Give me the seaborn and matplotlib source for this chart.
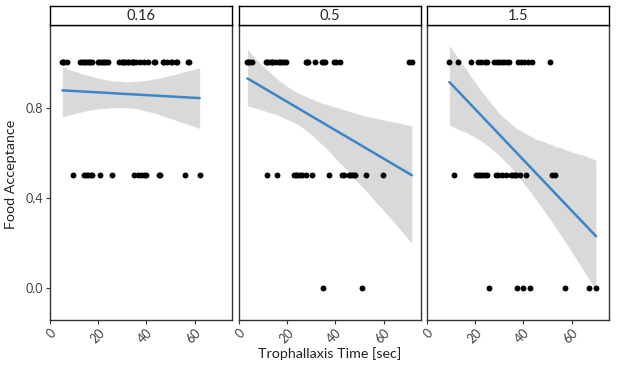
import numpy as np
import pandas as pd
import seaborn as sns
import matplotlib.pyplot as plt

sns.set_style("white")
plt.rcParams['font.family'] = ['Lato', 'DejaVu Sans']

panels = ["0.16", "0.5", "1.5"]

# panel 0.16
p1_one = [5.1, 5.5, 5.8, 7.2, 12.3, 13.4, 13.9, 14.5, 15.5, 16.0, 16.5, 17.6, 20.0, 20.5, 21.0, 22.1, 22.6,
          23.1, 24.2, 28.6, 29.7, 30.2, 30.7, 31.7, 32.2, 32.8, 33.9, 34.4, 34.9, 35.8, 37.3, 39.0,
          40.8, 43.2, 43.6, 46.9, 47.3, 48.7, 50.1, 50.5, 52.4, 52.8, 57.4, 57.8]
p1_half = [9.4, 14.1, 15.1, 15.9, 16.9, 17.6, 20.6, 25.9, 35.0, 36.6, 37.8, 38.9, 40.0, 45.2, 45.5, 56.0, 62.1]
p1_zero = []

# panel 0.5
p2_one = [3.5, 3.8, 4.4, 5.3, 11.3, 11.7, 12.2, 13.1, 13.5, 14.1, 15.5, 16.6, 17.2, 17.7, 18.7, 19.6,
          27.7, 28.1, 28.8, 31.5, 34.3, 34.8, 35.7, 39.4, 40.4, 41.8, 70.5, 71.7]
p2_half = [11.5, 15.9, 22.8, 23.5, 24.2, 25.2, 26.3, 27.9, 30.4, 37.3, 42.9, 43.6, 45.6, 46.2, 46.8,
           47.7, 48.1, 52.6, 59.8]
p2_zero = [35.0, 50.9]

# panel 1.5
p3_one = [9.3, 12.9, 18.4, 21.1, 22.5, 23.9, 24.8, 28.0, 28.9, 29.9, 31.0, 32.1, 33.0, 34.0, 37.9,
          39.2, 40.3, 41.7, 43.6, 50.9]
p3_half = [11.1, 20.3, 21.1, 22.1, 23.0, 23.9, 24.8, 28.5, 29.3, 31.3, 32.6, 34.9, 35.8, 36.5, 36.9, 38.6,
           40.9, 51.9, 53.2]
p3_zero = [25.9, 37.2, 39.9, 42.9, 57.1, 67.0, 70.1]

rows = []
for name, groups in zip(panels, [(p1_one, p1_half, p1_zero), (p2_one, p2_half, p2_zero), (p3_one, p3_half, p3_zero)]):
    for val, xs in zip([1.0, 0.5, 0.0], groups):
        for x in xs:
            rows.append({"panel": name, "time": x, "acc": val})
df = pd.DataFrame(rows)

fig = plt.figure(figsize=(6.17, 3.70), dpi=100)
W, H = 617, 370
lefts = [50, 239, 427]
width = 182
bottom_px, top_px = 320, 25
strip_top = 6

for i, name in enumerate(panels):
    ax = fig.add_axes([lefts[i] / W, 1 - bottom_px / H, width / W, (bottom_px - top_px) / H])
    d = df[df.panel == name]
    sns.regplot(data=d, x="time", y="acc", ax=ax, scatter=False, color="black",
                line_kws={"alpha": 0}, seed=1, n_boot=2000)
    sns.scatterplot(data=d, x="time", y="acc", ax=ax, color="black", s=18, linewidth=0, zorder=3)
    sns.regplot(data=d, x="time", y="acc", ax=ax, scatter=False, ci=None, color="#3d85c6",
                line_kws={"linewidth": 1.8, "zorder": 4})
    ax.set_xlim(0, 75.5)
    ax.set_ylim(-0.14, 1.165)
    ax.set_xticks([0, 20, 40, 60])
    ax.set_yticks([0.0, 0.4, 0.8])
    ax.set_xlabel("")
    ax.set_ylabel("")
    for lab in ax.get_xticklabels():
        lab.set_rotation(45)
        lab.set_ha("right")
        lab.set_rotation_mode("anchor")
    ax.tick_params(axis="both", which="both", length=3, width=0.8, color="#333333",
                   labelsize=9, labelcolor="#404040", bottom=True, left=True, pad=2)
    if i == 0:
        ax.set_yticklabels(["0.0", "0.4", "0.8"])
    else:
        ax.set_yticklabels([])
        ax.tick_params(axis="y", length=0)
    for sp in ax.spines.values():
        sp.set_color("#333333")
        sp.set_linewidth(1.0)
    sax = fig.add_axes([lefts[i] / W, 1 - top_px / H, width / W, (top_px - strip_top) / H])
    sax.set_xticks([])
    sax.set_yticks([])
    for sp in sax.spines.values():
        sp.set_color("black")
        sp.set_linewidth(1.0)
    sax.text(0.5, 0.45, name, ha="center", va="center", fontsize=10.5, transform=sax.transAxes)

fig.text(330 / W, 1 - 354 / H, "Trophallaxis Time [sec]", ha="center", va="center", fontsize=10.3, color="#222222")
fig.text(11 / W, 1 - 174 / H, "Food Acceptance", ha="center", va="center", rotation=90, fontsize=10.3, color="#222222")

fig.savefig("out.png", dpi=100)
